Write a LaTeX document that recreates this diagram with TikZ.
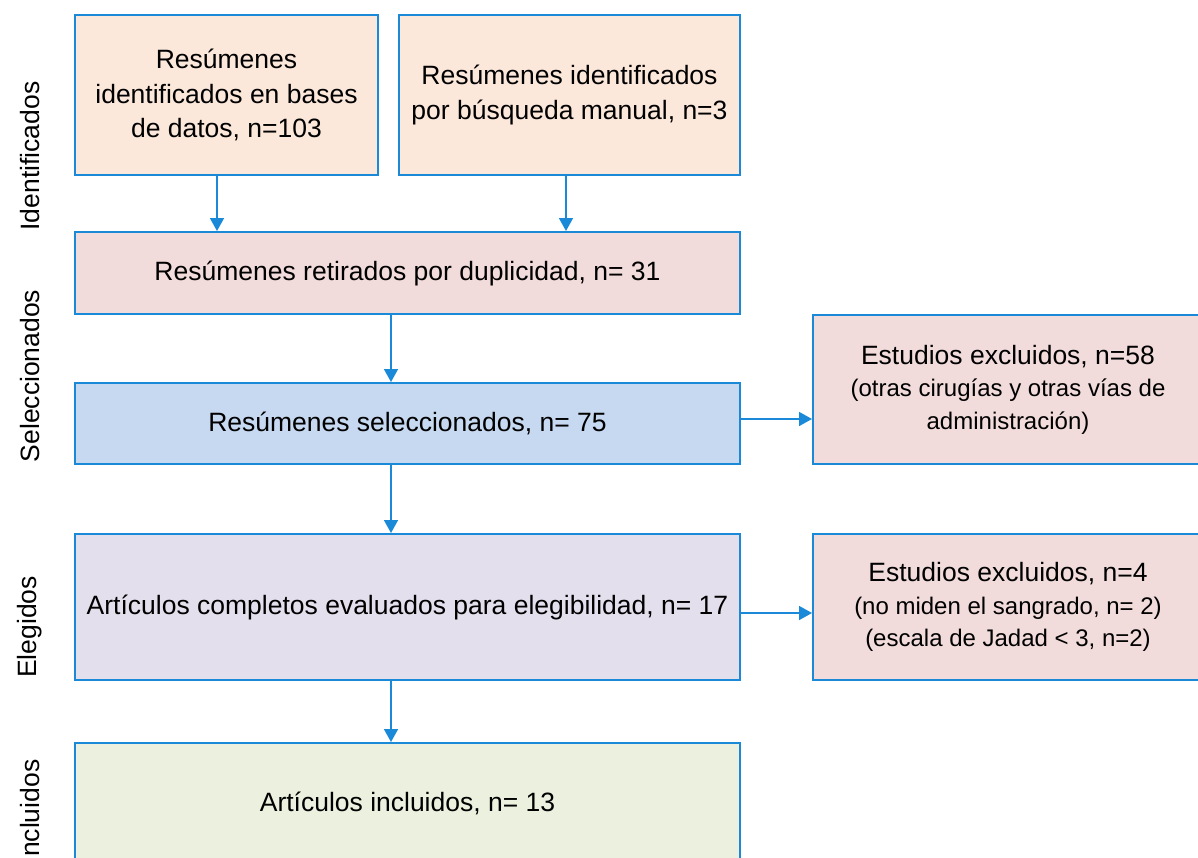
\documentclass[tikz,border=0pt]{standalone}
\usepackage{fontspec}
\setmainfont{Liberation Sans}
\usetikzlibrary{arrows.meta}
\definecolor{lineblue}{HTML}{1A8AD8}
\definecolor{peach}{HTML}{FCE8DA}
\definecolor{rose}{HTML}{F2DCDB}
\definecolor{lightblue}{HTML}{C6D9F0}
\definecolor{lavender}{HTML}{E4DFEC}
\definecolor{lightgreen}{HTML}{EBF1DE}
\begin{document}
\begin{tikzpicture}[x=1pt,y=-1pt,
  box/.style={draw=lineblue,line width=2pt,rectangle,align=center,inner sep=0pt,
    font=\fontsize{26.5}{34.5}\selectfont},
  arr/.style={draw=lineblue,line width=1.6pt,-{Triangle[width=14pt,length=13pt]}},
  side/.style={rotate=90,font=\fontsize{26.5}{32}\selectfont},
  small/.style={}]
\useasboundingbox (0,0) rectangle (1198,857);
\clip (0,0) rectangle (1198,857);
\node[box,fill=peach,minimum width=303pt,minimum height=160pt] (A) at (226.5,95)
  {Resúmenes\\identificados en bases\\de datos, n=103};
\node[box,fill=peach,minimum width=341pt,minimum height=160pt] (B) at (569.5,95)
  {Resúmenes identificados\\por búsqueda manual, n=3};
\node[box,fill=rose,minimum width=665pt,minimum height=82pt] (C) at (407.5,273)
  {Resúmenes retirados por duplicidad, n= 31};
\node[box,fill=lightblue,minimum width=665pt,minimum height=81pt] (D) at (407.5,423.5)
  {Resúmenes seleccionados, n= 75};
\node[box,fill=rose,minimum width=390pt,minimum height=149pt] (E) at (1008,389.5)
  {Estudios excluidos, n=58\\[-2pt]{\fontsize{24}{32.5}\selectfont(otras cirugías y otras vías de}\\[-2pt]{\fontsize{24}{32.5}\selectfont administración)}};
\node[box,fill=lavender,minimum width=665pt,minimum height=146pt] (F) at (407.5,607)
  {Artículos completos evaluados para elegibilidad, n= 17};
\node[box,fill=rose,minimum width=390pt,minimum height=146pt] (G) at (1008,607)
  {Estudios excluidos, n=4\\[-2pt]{\fontsize{24}{32.5}\selectfont(no miden el sangrado, n= 2)}\\[-2pt]{\fontsize{24}{32.5}\selectfont(escala de Jadad < 3, n=2)}};
\node[box,fill=lightgreen,minimum width=665pt,minimum height=120pt] (H) at (407.5,803)
  {Artículos incluidos, n= 13};
\node[side] (L1) at (30,156) {Identificados};
\node[side] (L2) at (30,376) {Seleccionados};
\node[side] (L3) at (30,627) {Elegidos};
\node[side] (L4) at (30,812) {Incluidos};
\draw[arr] ([xshift=-9.5pt]A.south) -- ([xshift=-9.5pt]A.south |- C.north);
\draw[arr] ([xshift=-3.5pt]B.south) -- ([xshift=-3.5pt]B.south |- C.north);
\draw[arr] ([xshift=-16.5pt]C.south) -- ([xshift=-16.5pt]C.south |- D.north);
\draw[arr] ([xshift=-16.5pt]D.south) -- ([xshift=-16.5pt]D.south |- F.north);
\draw[arr] ([xshift=-16.5pt]F.south) -- ([xshift=-16.5pt]F.south |- H.north);
\draw[arr] ([yshift=4.5pt]D.east) -- ([yshift=4.5pt]D.east -| E.west);
\draw[arr] ([yshift=-6pt]F.east) -- ([yshift=-6pt]F.east -| G.west);
\end{tikzpicture}
\end{document}
